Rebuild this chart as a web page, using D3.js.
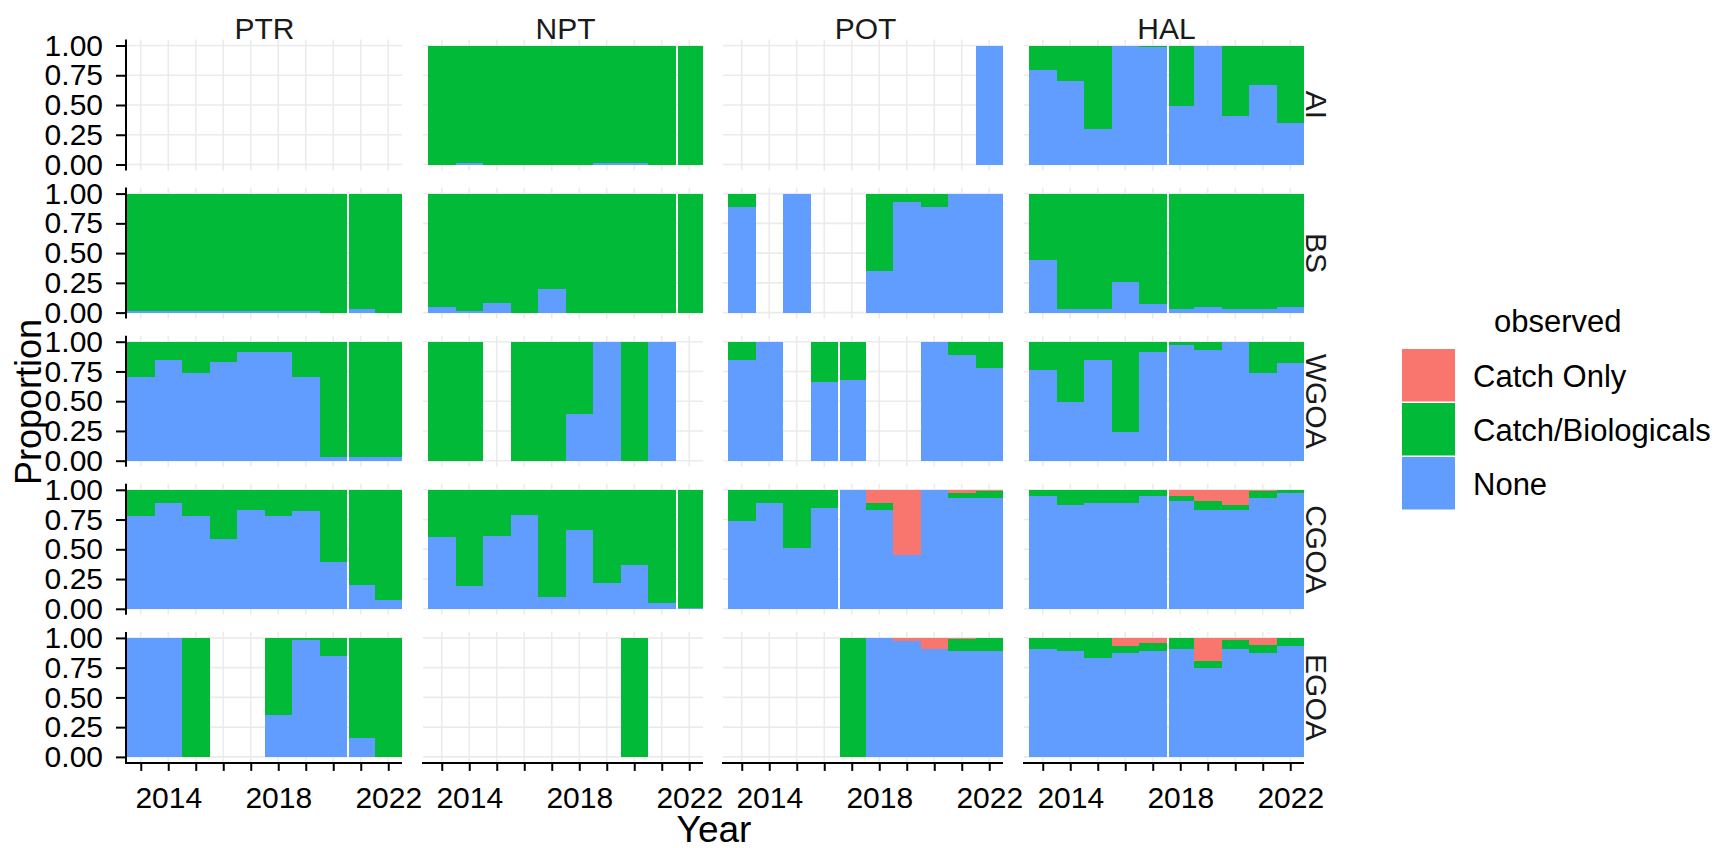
<!DOCTYPE html>
<html>
<head>
<meta charset="utf-8">
<title>observed by gear and area</title>
<style>
  html, body { margin: 0; padding: 0; background: #fff; }
  svg { display: block; }
</style>
</head>
<body>
<svg id="chart" width="1726" height="848"></svg>

<script src="https://cdn.jsdelivr.net/npm/d3@7"></script>
<script>

const years = [2013, 2014, 2015, 2016, 2017, 2018, 2019, 2020, 2021, 2022];
const labelYears = [2014, 2018, 2022];
const gears = ["PTR", "NPT", "POT", "HAL"];
const areas = ["AI", "BS", "WGOA", "CGOA", "EGOA"];
const yTicks = [0, 0.25, 0.5, 0.75, 1];
const legendKeys = ["only", "bio", "none"];
const legendLabels = ["Catch Only", "Catch/Biologicals", "None"];

const _ = null;   // no hauls that year

// share "None" per area (rows AI, BS, WGOA, CGOA, EGOA), per year
const PTR_none = [
  [_, _, _, _, _, _, _, _, _, _],
  [0.01, 0.01, 0.01, 0.01, 0.01, 0.01, 0.01, 0, 0.03, 0],
  [0.70, 0.85, 0.74, 0.83, 0.91, 0.91, 0.70, 0.03, 0.03, 0.03],
  [0.78, 0.89, 0.78, 0.59, 0.83, 0.78, 0.82, 0.39, 0.20, 0.07],
  [1, 1, 0, _, _, 0.35, 0.98, 0.85, 0.16, 0]
];
const NPT_none = [
  [0, 0.01, 0, 0, 0, 0, 0.01, 0.01, 0, 0],
  [0.05, 0.01, 0.08, 0, 0.20, 0, 0, 0, 0, 0],
  [0, 0, _, 0, 0, 0.39, 1, 0, 1, _],
  [0.60, 0.19, 0.61, 0.79, 0.10, 0.66, 0.22, 0.37, 0.05, 0.01],
  [_, _, _, _, _, _, _, 0, _, _]
];
const POT_none = [
  [_, _, _, _, _, _, _, _, _, 1],
  [0.89, _, 1, _, _, 0.35, 0.93, 0.89, 1, 1],
  [0.85, 1, _, 0.66, 0.68, _, _, 1, 0.89, 0.78],
  [0.74, 0.89, 0.51, 0.85, 1, 0.83, 0.45, 1, 0.93, 0.93],
  [_, _, _, _, 0, 1, 0.97, 0.91, 0.89, 0.89]
];
const HAL_none = [
  [0.79, 0.70, 0.30, 1, 0.985, 0.49, 1, 0.41, 0.67, 0.35],
  [0.44, 0.03, 0.03, 0.26, 0.07, 0.03, 0.05, 0.03, 0.03, 0.05],
  [0.76, 0.49, 0.85, 0.24, 0.91, 0.97, 0.93, 1, 0.74, 0.82],
  [0.95, 0.87, 0.89, 0.89, 0.95, 0.91, 0.83, 0.83, 0.93, 0.97],
  [0.91, 0.89, 0.83, 0.87, 0.89, 0.91, 0.75, 0.91, 0.87, 0.93]
];

// share "Catch Only" (only POT and HAL have any)
const POT_catchOnly = [
  [0, 0, 0, 0, 0, 0, 0, 0, 0, 0],
  [0, 0, 0, 0, 0, 0, 0, 0, 0, 0],
  [0, 0, 0, 0, 0, 0, 0, 0, 0, 0],
  [0, 0, 0, 0, 0, 0.11, 0.55, 0, 0.03, 0.01],
  [0, 0, 0, 0, 0, 0, 0.03, 0.09, 0.01, 0]
];
const HAL_catchOnly = [
  [0, 0, 0, 0, 0, 0, 0, 0, 0, 0],
  [0, 0, 0, 0, 0, 0, 0, 0, 0, 0],
  [0, 0, 0, 0, 0, 0, 0, 0, 0, 0],
  [0, 0, 0, 0, 0, 0.05, 0.09, 0.13, 0.01, 0],
  [0, 0, 0, 0.07, 0.04, 0, 0.19, 0.02, 0.06, 0]
];

// first year after the thin white break in each gear column
const breakYear = [2021, 2022, 2017, 2018];

const noneByGear = [PTR_none, NPT_none, POT_none, HAL_none];
const onlyByGear = [null, null, POT_catchOnly, HAL_catchOnly];

const FONT = '"Liberation Sans", Arial, sans-serif';
const colors = { none: "#619CFF", bio: "#00BA38", only: "#F8766D" };

const barLeft = [127, 428, 728, 1029];
const barW = 275;
const padLeft = [1, 5, 5, 5];
const rowTop = r => 45.5 + r * 148.1;
const rowH = 119;

const svg = d3.select("#chart");
const stack = d3.stack().keys(["none", "bio", "only"]);

gears.forEach((g, c) => {
  const x = d3.scaleLinear()
              .domain([2012.5, 2022.5])
              .range([barLeft[c], barLeft[c] + barW]);
  const px0 = barLeft[c] - padLeft[c];
  const px1 = barLeft[c] + barW;

  areas.forEach((a, r) => {
    const y = d3.scaleLinear()
                .domain([0, 1])
                .range([rowTop(r) + rowH, rowTop(r)]);
    const py0 = y(1) - 6;
    const py1 = y(0) + 6;
    const panel = svg.append("g");

    // grid
    panel.selectAll("line.gy")
         .data(yTicks)
         .join("line")
         .attr("class", "gy")
         .attr("x1", px0).attr("x2", px1)
         .attr("y1", d => y(d)).attr("y2", d => y(d))
         .attr("stroke", "#EBEBEB").attr("stroke-width", 1.6);
    panel.selectAll("line.gx")
         .data(years)
         .join("line")
         .attr("class", "gx")
         .attr("x1", d => x(d)).attr("x2", d => x(d))
         .attr("y1", py0).attr("y2", py1)
         .attr("stroke", "#EBEBEB").attr("stroke-width", 1.6);

    // bars
    const table = years.map((yr, i) => {
      const none = noneByGear[c][r][i];
      if (none === null) return null;
      const only = onlyByGear[c] ? onlyByGear[c][r][i] : 0;
      return { year: yr, none: none, only: only, bio: Math.max(0, 1 - none - only) };
    }).filter(d => d !== null);

    const series = stack(table);
    panel.selectAll("g.layer")
         .data(series)
         .join("g")
         .attr("class", "layer")
         .attr("fill", s => colors[s.key])
         .selectAll("rect")
         .data(s => s.filter(d => d[1] - d[0] > 0.0005))
         .join("rect")
         .attr("shape-rendering", "crispEdges")
         .attr("x", d => x(d.data.year - 0.5) + (d.data.year === breakYear[c] ? 2 : 0))
         .attr("width", d => x(d.data.year + 0.5) - x(d.data.year - 0.5) - (d.data.year === breakYear[c] ? 2 : 0))
         .attr("y", d => y(d[1]))
         .attr("height", d => y(d[0]) - y(d[1]));

    // y axis on first column
    if (c === 0) {
      const ax = panel.append("g")
                      .attr("transform", `translate(${px0},0)`)
                      .call(d3.axisLeft(y).tickValues(yTicks)
                              .tickFormat(d3.format(".2f"))
                              .tickSize(10).tickPadding(13));
      ax.attr("font-family", FONT).attr("font-size", 30);
      ax.select(".domain").remove();
      ax.selectAll(".tick line").attr("stroke", "#000").attr("stroke-width", 2);
      ax.selectAll(".tick text").attr("fill", "#000");
      panel.append("line")
           .attr("x1", px0).attr("x2", px0)
           .attr("y1", py0).attr("y2", py1)
           .attr("stroke", "#000").attr("stroke-width", 2);
    }

    // x axis on bottom row
    if (r === areas.length - 1) {
      const bx = panel.append("g")
                      .attr("transform", `translate(0,${py1})`)
                      .call(d3.axisBottom(x).tickValues(years)
                              .tickFormat(d => labelYears.includes(d) ? d : "")
                              .tickSize(8).tickPadding(16));
      bx.attr("font-family", FONT).attr("font-size", 30);
      bx.select(".domain").remove();
      bx.selectAll(".tick line").attr("stroke", "#000").attr("stroke-width", 2);
      bx.selectAll(".tick text").attr("fill", "#000");
      panel.append("line")
           .attr("x1", px0 - 1).attr("x2", px1)
           .attr("y1", py1).attr("y2", py1)
           .attr("stroke", "#000").attr("stroke-width", 2);
    }

    // row strip on last column
    if (c === gears.length - 1) {
      const yc = (y(0) + y(1)) / 2;
      svg.append("text")
         .attr("transform", `translate(1306,${yc}) rotate(90)`)
         .attr("text-anchor", "middle")
         .attr("font-family", FONT).attr("font-size", 30)
         .attr("fill", "#1a1a1a")
         .text(a);
    }
  });

  // column strip
  svg.append("text")
     .attr("x", barLeft[c] + barW / 2)
     .attr("y", 39)
     .attr("text-anchor", "middle")
     .attr("font-family", FONT).attr("font-size", 30)
     .attr("fill", "#1a1a1a")
     .text(g);
});

// axis titles
svg.append("text")
   .attr("x", 714).attr("y", 842)
   .attr("text-anchor", "middle")
   .attr("font-family", FONT).attr("font-size", 37)
   .text("Year");

svg.append("text")
   .attr("transform", "translate(41,402) rotate(-90)")
   .attr("text-anchor", "middle")
   .attr("font-family", FONT).attr("font-size", 36)
   .text("Proportion");

// legend
const legend = svg.append("g").attr("font-family", FONT);
legend.append("text")
      .attr("x", 1494).attr("y", 332)
      .attr("font-size", 31)
      .text("observed");

const keyH = 54;
const keys = legend.selectAll("g.key")
                   .data(legendKeys)
                   .join("g")
                   .attr("class", "key")
                   .attr("transform", (d, i) => `translate(1402,${349 + i * keyH})`);
keys.append("rect")
    .attr("width", 53).attr("height", keyH - 1.5)
    .attr("fill", d => colors[d]);
keys.append("text")
    .attr("x", 71).attr("y", keyH / 2)
    .attr("dy", "0.35em")
    .attr("font-size", 31)
    .text((d, i) => legendLabels[i]);

</script>
</body>
</html>
